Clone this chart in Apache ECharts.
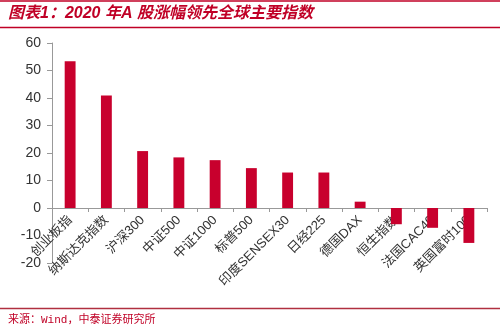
<!DOCTYPE html>
<html><head><meta charset="utf-8">
<script src="https://cdn.jsdelivr.net/npm/echarts@6/dist/echarts.min.js"></script>
<style>html,body{margin:0;padding:0;background:#fff}#c{width:500px;height:333px}</style>
</head><body><div id="c"></div>
<script>
const categories = ['创业板指','纳斯达克指数','沪深300','中证500','中证1000','标普500','印度SENSEX30','日经225','德国DAX','恒生指数','法国CAC40','英国富时100'];
const values = [53.4, 40.9, 20.7, 18.4, 17.4, 14.5, 12.9, 12.9, 2.3, -5.9, -7.2, -12.7];
const yTicks = [-20, -10, 0, 10, 20, 30, 40, 50, 60];
const titleText = '图表1：2020 年A 股涨幅领先全球主要指数';
const sourceText = '来源：Wind，中泰证券研究所';

const red = '#c00026';
const gridTop = 43, gridBottom = 70, H = 333;
const yMin = yTicks[0], yMax = yTicks[yTicks.length-1];
const plotH = H - gridTop - gridBottom;
const zeroOffset = -(0 - yMin) / (yMax - yMin) * plotH;

const chart = echarts.init(document.getElementById('c'));
chart.setOption({
  animation: false,
  grid: {left: 52, right: 13, top: gridTop, bottom: gridBottom, containLabel: false, outerBoundsMode: 'none'},
  xAxis: {
    type: 'category', data: categories, offset: zeroOffset,
    axisLine: {onZero: false, lineStyle: {color: '#999', width: 1}},
    axisTick: {show: true, alignWithLabel: false, length: 4, lineStyle: {color: '#999'}},
    axisLabel: {rotate: 45, interval: 0, margin: 10, fontSize: 13, color: '#333',
      fontFamily: 'Liberation Sans, Noto Sans CJK SC'}
  },
  yAxis: {
    type: 'value', min: yMin, max: yMax, interval: 10,
    axisLine: {show: true, lineStyle: {color: '#999'}},
    axisTick: {show: true, length: 5, lineStyle: {color: '#999'}},
    splitLine: {show: false},
    axisLabel: {fontSize: 14, color: '#333', margin: 11, fontFamily: 'Liberation Sans'}
  },
  series: [{
    type: 'bar', data: values, barWidth: '30%',
    itemStyle: {color: '#c8002d'}
  }],
  graphic: [
    {type: 'line', shape: {x1: 0, y1: 1, x2: 500, y2: 1}, style: {stroke: red, lineWidth: 1.5}},
    {type: 'text', left: 8, top: 6, style: {text: titleText, fill: red,
      font: 'italic bold 16px "Liberation Sans", "Noto Sans CJK SC"'}},
    {type: 'line', shape: {x1: 0, y1: 27.5, x2: 500, y2: 27.5}, style: {stroke: red, lineWidth: 1.5}},
    {type: 'line', shape: {x1: 0, y1: 308.5, x2: 500, y2: 308.5}, style: {stroke: '#b03040', lineWidth: 1.5}},
    {type: 'text', left: 8, top: 315, style: {text: sourceText, fill: red,
      font: '11px "Liberation Mono", "Noto Sans CJK SC"'}}
  ]
});
</script></body></html>
